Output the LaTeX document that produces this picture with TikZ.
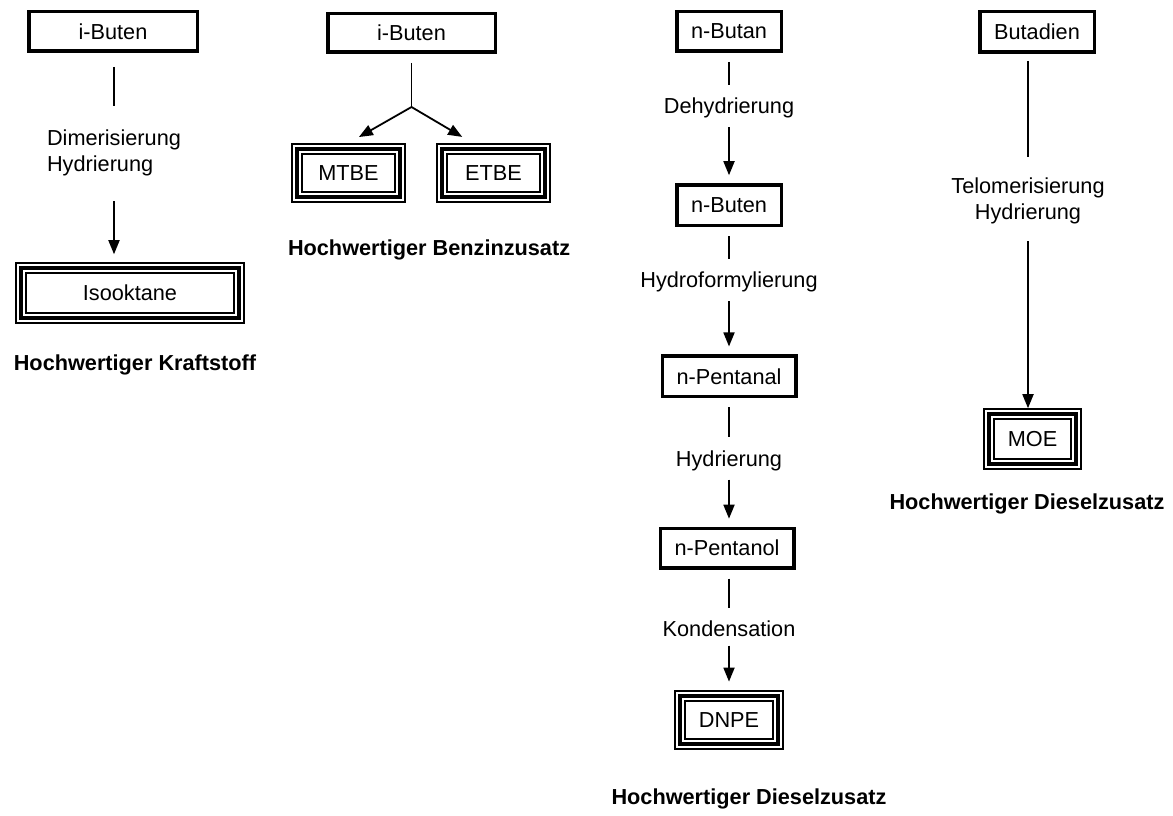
\documentclass[tikz,border=0pt]{standalone}
\usepackage{fontspec}
\setmainfont{Liberation Sans}
\usetikzlibrary{positioning,arrows.meta}

\begin{document}
\begin{tikzpicture}[
  x=1pt,y=-1pt,
  font=\fontsize{21.7}{26}\selectfont,
  stoff/.style={draw,line width=3.5pt,minimum height=39.5pt,inner sep=0pt},
  prod/.style={draw,line width=12pt,minimum height=48pt,inner sep=0pt,
    postaction={draw=white,line width=8pt},postaction={draw=black,line width=4pt}},
  proc/.style={inner sep=0pt,outer sep=0pt},
  ziel/.style={inner sep=0pt,outer sep=0pt,font=\fontsize{21.7}{26}\selectfont\bfseries},
  ln/.style={line width=1.8pt},
  arr/.style={line width=1.8pt,-{Triangle[length=14pt,width=11pt]}}]
  \useasboundingbox (0,0) rectangle (1173,816);
  % Kraftstoff
  \node[stoff,minimum width=168.5pt] (ibA) at (113,31.5) {i-Buten};
  \node[proc,align=left,below=77pt of ibA,xshift=1pt] (dimer) {Dimerisierung\\Hydrierung};
  \node[prod,minimum width=218pt,minimum height=50pt,below=86pt of dimer,xshift=16pt] (iso) {Isooktane};
  \node[ziel,below=31pt of iso,xshift=5pt] (hwA) {Hochwertiger Kraftstoff};
  \draw[ln,shorten <=14pt,shorten >=24pt] (ibA.south -| dimer) -- (dimer.north);
  \draw[arr,shorten <=25pt,shorten >=8pt] (dimer.south) -- (dimer.south |- iso.north);
  % Benzinzusatz
  \node[stoff,minimum width=167.5pt,minimum height=38.5pt] (ibB) at (411.5,33) {i-Buten};
  \coordinate[below=53pt of ibB] (gabel);
  \node[prod,minimum width=103pt,below=89pt of ibB,xshift=-63pt] (mtbe) {MTBE};
  \node[prod,minimum width=103pt,right=30pt of mtbe] (etbe) {ETBE};
  \node[ziel,anchor=north west] (hwB) at ([xshift=-3pt,yshift=-37pt]mtbe.south west) {Hochwertiger Benzinzusatz};
  \draw[ln,shorten <=9pt] (ibB.south) -- (gabel);
  \draw[arr,shorten >=12pt] (gabel) -- (mtbe.north);
  \draw[arr,shorten >=12pt] (gabel) -- ([xshift=-21pt]etbe.north);
  % Dieselzusatz DNPE
  \node[stoff,minimum width=104.5pt] (bu) at (729,31.5) {n-Butan};
  \node[proc,below=45pt of bu] (dehy) {Dehydrierung};
  \node[stoff,minimum width=104.5pt,minimum height=40.5pt,below=65pt of dehy] (nb) {n-Buten};
  \node[proc,below=45pt of nb] (hyfo) {Hydroformylierung};
  \node[stoff,minimum width=133.5pt,minimum height=40.5pt,below=62pt of hyfo] (npal) {n-Pentanal};
  \node[proc,below=52pt of npal] (hydr) {Hydrierung};
  \node[stoff,minimum width=133.5pt,below=56pt of hydr,xshift=-2pt] (npol) {n-Pentanol};
  \node[proc,below=51pt of npol,xshift=2pt] (kond) {Kondensation};
  \node[prod,minimum width=98pt,below=53pt of kond] (dnpe) {DNPE};
  \node[ziel,below=39pt of dnpe,xshift=20pt] (hwD) {Hochwertiger Dieselzusatz};
  \draw[ln,shorten <=9pt,shorten >=13pt] (bu.south -| dehy) -- (dehy.north);
  \draw[arr,shorten <=9pt,shorten >=8pt] (dehy.south) -- (dehy.south |- nb.north);
  \draw[ln,shorten <=9pt,shorten >=13pt] (nb.south -| hyfo) -- (hyfo.north);
  \draw[arr,shorten <=9pt,shorten >=8pt] (hyfo.south) -- (hyfo.south |- npal.north);
  \draw[ln,shorten <=9pt,shorten >=13pt] (npal.south -| hydr) -- (hydr.north);
  \draw[arr,shorten <=9pt,shorten >=8pt] (hydr.south) -- (hydr.south |- npol.north);
  \draw[ln,shorten <=9pt,shorten >=13pt] (npol.south -| kond) -- (kond.north);
  \draw[arr,shorten <=9pt,shorten >=8pt] (kond.south) -- (kond.south |- dnpe.north);
  % Dieselzusatz MOE
  \node[stoff,minimum width=114.5pt,minimum height=40.5pt] (bd) at (1037,32) {Butadien};
  \node[proc,align=center,below=124pt of bd,xshift=-9pt] (telo) {Telomerisierung\\Hydrierung};
  \node[prod,minimum width=87pt,minimum height=50pt,below=184pt of telo,xshift=4.5pt] (moe) {MOE};
  \node[ziel,below=24pt of moe,xshift=-5.5pt] (hwE) {Hochwertiger Dieselzusatz};
  \draw[ln,shorten <=7pt,shorten >=21pt] (bd.south -| telo) -- (telo.north);
  \draw[arr,shorten <=17pt] (telo.south) -- (telo.south |- moe.north);
\end{tikzpicture}
\end{document}
